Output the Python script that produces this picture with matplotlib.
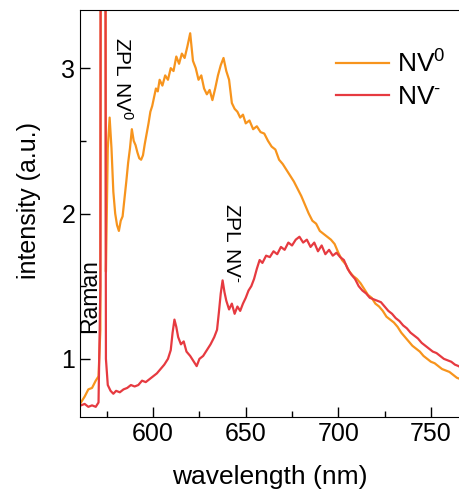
import matplotlib
matplotlib.use("Agg")
import numpy as np
from matplotlib import pyplot as plt

plt.rcParams['font.family'] = ['Liberation Sans', 'DejaVu Sans']
plt.rcParams['mathtext.fontset'] = 'custom'
plt.rcParams['mathtext.rm'] = 'Liberation Sans'
plt.rcParams['mathtext.it'] = 'Liberation Sans'

# NV0 spectrum (orange)
wl_nv0 = [561, 563, 565, 567, 569, 570.5, 571.5, 572.5, 573.5, 574.5, 575.5, 576.5,
          577.5, 578.5, 579.5, 580.5, 581.5, 582.5, 583.5, 584.5, 585.5, 586.5, 587.5,
          588.5, 589.5, 590.5, 591.5, 592.5, 593.5, 594.5, 595.5, 596.5, 597.5, 598.5,
          599.5, 600.5, 601.5, 602.5, 603.5, 605, 606.5, 608, 609.5, 611, 612.5, 614,
          615.5, 617, 618.5, 620, 621.5, 623, 624.5, 626, 627.5, 629, 630.5, 632, 633.5,
          635, 636.5, 638, 639.5, 641, 642.5, 644, 645.5, 647, 648.5, 650, 652, 654, 656,
          658, 660, 662, 664, 666, 668, 670, 672, 674, 676, 678, 680, 682, 684, 686, 688,
          690, 692, 694, 696, 698, 700, 702, 704, 706, 708, 710, 712, 714, 716, 718, 720,
          722, 724, 726, 728, 730, 732, 734, 736, 738, 740, 742, 744, 746, 748, 750, 752,
          754, 756, 758, 760, 762, 764, 766]
int_nv0 = [0.70, 0.74, 0.79, 0.80, 0.85, 0.88, 1.2, 12, 12, 1.6, 2.45, 2.66,
           2.45, 2.15, 2.0, 1.92, 1.88, 1.95, 1.98, 2.1, 2.22, 2.35, 2.45,
           2.58, 2.5, 2.47, 2.42, 2.38, 2.37, 2.40, 2.48, 2.55, 2.62, 2.70,
           2.74, 2.80, 2.86, 2.84, 2.92, 2.88, 2.95, 2.92, 3.0, 2.98, 3.08, 3.03,
           3.1, 3.07, 3.15, 3.24, 3.05, 3.0, 2.92, 2.95, 2.86, 2.82, 2.85, 2.78, 2.86,
           2.95, 3.02, 3.07, 2.98, 2.92, 2.76, 2.72, 2.70, 2.66, 2.68, 2.62, 2.64, 2.58, 2.60,
           2.56, 2.55, 2.50, 2.46, 2.44, 2.37, 2.34, 2.30, 2.26, 2.22, 2.17, 2.12, 2.06, 2.00, 1.95, 1.93,
           1.88, 1.86, 1.84, 1.82, 1.79, 1.73, 1.68, 1.65, 1.60, 1.57, 1.55, 1.52, 1.48, 1.44, 1.42, 1.38,
           1.36, 1.33, 1.29, 1.27, 1.25, 1.22, 1.18, 1.15, 1.12, 1.09, 1.07, 1.05, 1.02, 1.00, 0.98, 0.97,
           0.95, 0.93, 0.92, 0.91, 0.89, 0.87, 0.86]

# NV- spectrum (red)
wl_nvm = [561, 563, 565, 567, 569, 570.5, 571.5, 572, 573.5, 574.5, 575.5, 577, 578.5,
          580, 582, 584, 586, 588, 590, 592, 594, 596, 598, 600, 602, 604, 606, 608,
          609.5, 610.5, 611.5, 612.5, 613.5, 615, 616.5, 618, 620, 622, 623.5, 625, 627,
          629, 631, 633, 634.5, 635.5, 636.5, 637.5, 638.5, 639.5, 641, 642.5, 644, 645.5,
          647, 648.5, 650, 651.5, 653, 654.5, 656, 657.5, 659, 661, 663, 665, 667, 669,
          671, 673, 675, 677, 679, 681, 683, 685, 687, 689, 691, 693, 695, 697, 699, 701,
          703, 705, 707, 709, 711, 713, 715, 717, 719, 721, 723, 725, 727, 729, 731, 733,
          735, 737, 739, 741, 743, 745, 747, 749, 751, 753, 755, 757, 759, 761, 763, 765, 766]
int_nvm = [0.68, 0.69, 0.67, 0.68, 0.67, 0.70, 1.5, 12, 12, 1.0, 0.82, 0.78, 0.76,
           0.78, 0.77, 0.79, 0.80, 0.82, 0.81, 0.82, 0.85, 0.84, 0.86, 0.88, 0.90, 0.93, 0.96, 1.00,
           1.06, 1.18, 1.27, 1.22, 1.15, 1.10, 1.12, 1.05, 1.02, 0.98, 0.95, 1.00, 1.02,
           1.06, 1.10, 1.15, 1.20, 1.32, 1.45, 1.54, 1.46, 1.40, 1.34, 1.38, 1.31, 1.36,
           1.33, 1.38, 1.42, 1.47, 1.50, 1.55, 1.62, 1.68, 1.66, 1.71, 1.70, 1.74, 1.72, 1.77,
           1.75, 1.80, 1.78, 1.82, 1.84, 1.80, 1.82, 1.77, 1.80, 1.74, 1.78, 1.72, 1.75, 1.71, 1.73, 1.70,
           1.68, 1.62, 1.58, 1.55, 1.50, 1.47, 1.45, 1.42, 1.41, 1.40, 1.39, 1.36, 1.33, 1.31, 1.28, 1.26,
           1.23, 1.21, 1.18, 1.16, 1.14, 1.11, 1.09, 1.07, 1.05, 1.04, 1.02, 1.00, 0.99, 0.98, 0.96, 0.95, 0.94]

fig = plt.figure(figsize=(4.6, 4.91), dpi=100)
ax = fig.add_axes([80 / 460, 74 / 491, 380 / 460, 407 / 491])

ax.plot(wl_nv0, int_nv0, color='#F7941D', lw=1.6, label='NV$^0$')
ax.plot(wl_nvm, int_nvm, color='#E63A40', lw=1.6, label=r'NV$^{\text{-}}$')

ax.set_xlim(560.5, 765.7)
ax.set_ylim(0.6, 3.4)
ax.set_xticks([600, 650, 700, 750])
ax.set_xticks([575, 625, 675, 725], minor=True)
ax.set_yticks([1, 2, 3])
ax.set_yticks([1.5, 2.5], minor=True)
ax.tick_params(which='both', direction='in', labelsize=18, width=1)
ax.tick_params(which='major', length=7)
ax.tick_params(which='minor', length=4)
ax.spines['right'].set_visible(False)
ax.set_xlabel('wavelength (nm)', fontsize=19, labelpad=14)
ax.set_ylabel('intensity (a.u.)', fontsize=18)
ax.yaxis.set_label_coords(-0.103, 0.533)

ax.text(583.5, 2.93, 'ZPL NV$^0$', rotation=-90, fontsize=15, ha='center', va='center')
ax.text(642.5, 1.80, r'ZPL NV$^{\text{-}}$', rotation=-90, fontsize=15, ha='center', va='center')
ax.text(565.6, 1.43, 'Raman', rotation=90, fontsize=16.5, ha='center', va='center')

ax.legend(loc='upper right', bbox_to_anchor=(1.024, 0.96), frameon=False, fontsize=19,
          handlelength=2.0, handletextpad=0.3, labelspacing=0.3)

plt.savefig('out.png', dpi=100)
